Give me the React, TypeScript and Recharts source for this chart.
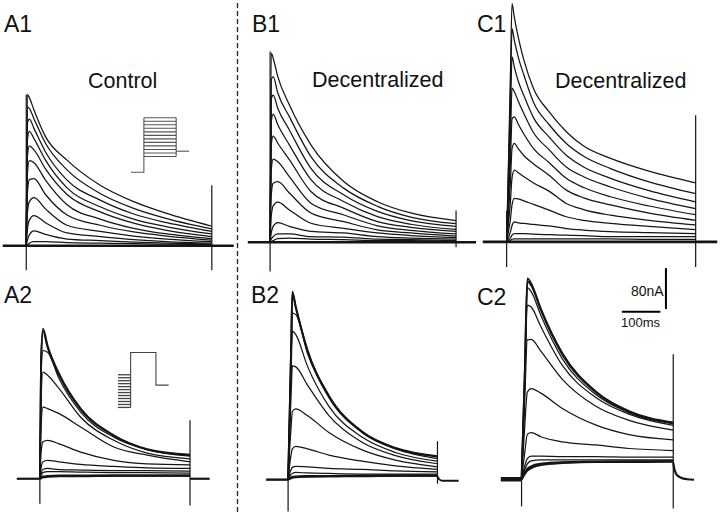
import React from 'react';
import { LineChart, Line, XAxis, YAxis } from 'recharts';

// ---------- scale: px per ms and px per nA (from the 100 ms / 80 nA bars) ----------
const KX = 0.385;
const KY = 0.5125;
const SCALE_MS = 100;
const SCALE_NA = 80;

// ---------- A1 : Control, activation ----------
const A1_T = [0, 3, 8, 20, 50, 106, 192, 279, 365, 482];
const A1_TRACES = [
  [0, 295, 289, 265, 213, 167, 118, 86, 63, 38],
  [0, 271, 268, 248, 200, 148, 102, 73, 53, 33],
  [0, 239, 247, 229, 183, 128, 89, 62, 45, 28],
  [0, 206, 223, 209, 167, 113, 76, 52, 37, 23],
  [0, 174, 195, 187, 150, 100, 66, 44, 30, 18],
  [0, 141, 166, 162, 128, 80, 52, 34, 23, 14],
  [0, 102, 129, 131, 100, 60, 40, 27, 19, 11],
  [0, 63, 86, 94, 72, 40, 28, 19, 13, 8],
  [0, 31, 50, 59, 45, 25, 18, 12, 8, 5],
  [0, 11, 21, 29, 22, 13, 10, 7, 5, 3],
  [0, 2, 5, 8, 8, 6, 5, 4, 3, 2],
];
const A1_BASE = [[-61, 0], [539, 0]];
const A1_ON = [[0, -48], [0, 295]];
const A1_OFF = [[482, -48], [482, 118]];

// ---------- B1 : Decentralized, activation ----------
const B1_T = [0, 3, 8, 20, 50, 106, 192, 279, 365, 483];
const B1_TRACES = [
  [0, 369, 359, 323, 268, 190, 118, 79, 57, 42],
  [0, 317, 323, 291, 245, 167, 105, 70, 49, 36],
  [0, 278, 287, 261, 219, 144, 92, 60, 42, 31],
  [0, 235, 250, 229, 190, 122, 79, 50, 35, 25],
  [0, 190, 207, 193, 161, 99, 66, 40, 29, 21],
  [0, 141, 162, 157, 128, 76, 53, 32, 23, 16],
  [0, 92, 115, 118, 96, 57, 40, 24, 18, 12],
  [0, 50, 71, 78, 63, 37, 27, 18, 13, 9],
  [0, 18, 31, 38, 31, 21, 18, 11, 8, 6],
  [0, 6, 11, 16, 16, 11, 10, 6, 5, 3],
  [0, 1, 3, 7, 8, 6, 5, 3, 3, 1],
];
const B1_BASE = [[-58, 0], [535, 0]];
const B1_ON = [[0, -57], [0, 372]];
const B1_OFF = [[483, -10], [483, 62]];

// ---------- C1 : Decentralized, activation ----------
const C1_T = [0, 4, 10, 14, 20, 30, 45, 70, 110, 155, 200, 270, 370, 491];
const C1_TRACES = [
  [0, 130, 332, 465, 438, 400, 354, 299, 254, 215, 187, 163, 138, 115],
  [0, 116, 297, 416, 393, 361, 325, 272, 229, 192, 167, 143, 117, 94],
  [0, 101, 258, 361, 341, 314, 285, 242, 205, 169, 146, 124, 100, 78],
  [0, 80, 205, 300, 293, 275, 250, 213, 180, 146, 127, 107, 85, 65],
  [0, 62, 160, 240, 244, 230, 210, 182, 155, 124, 106, 88, 70, 53],
  [0, 45, 120, 182, 192, 182, 168, 152, 130, 101, 86, 72, 56, 42],
  [0, 30, 80, 125, 140, 135, 127, 115, 99, 75, 63, 52, 42, 33],
  [0, 17, 45, 72, 85, 84, 80, 73, 62, 49, 42, 36, 30, 24],
  [0, 7, 20, 32, 39, 37, 36, 34, 31, 26, 23, 20, 18, 16],
  [0, 3, 8, 13, 16, 16, 16, 15, 14, 13, 12, 10, 10, 10],
  [0, 1, 3, 5, 6, 6, 6, 6, 6, 6, 6, 6, 5, 5],
];
const C1_BASE = [[-62, 0], [547, 0]];
const C1_ON = [[0, -49], [0, 60]];
const C1_OFF = [[491, -49], [491, 247]];

// ---------- A2 : Control, inactivation ----------
const A2_T = [0, 3, 8, 20, 50, 106, 192, 279, 390];
const A2_TRACES = [
  [0, 231, 293, 260, 205, 137, 85, 58, 47],
  [0, 222, 288, 256, 202, 135, 84, 57, 46],
  [0, 198, 250, 247, 195, 130, 81, 57, 44],
  [0, 153, 208, 202, 176, 120, 75, 50, 39],
  [0, 101, 140, 137, 127, 101, 62, 46, 33],
  [0, 49, 72, 75, 68, 52, 36, 29, 27],
  [0, 20, 33, 36, 33, 28, 24, 21, 20],
  [0, 10, 18, 20, 18, 17, 16, 16, 15],
  [0, 6, 12, 14, 14, 13, 12, 12, 11],
  [0, 2, 4, 5, 6, 6, 6, 6, 6],
  [0, 1, 3, 4, 5, 5, 6, 6, 6],
];
const A2_PRE = [[-60, 0], [0, 0]];
const A2_POST = [[390, 0], [441, 0]];
const A2_ON = [[0, -49], [0, 12]];
const A2_OFF = [[390, -52], [390, 114]];

// ---------- B2 : Decentralized, inactivation ----------
const B2_T = [0, 3, 8, 11, 20, 50, 106, 192, 279, 388];
const B2_TRACES = [
  [0, 98, 267, 367, 338, 254, 164, 94, 62, 46],
  [0, 95, 260, 362, 335, 252, 163, 93, 61, 45],
  [0, 95, 245, 325, 322, 247, 160, 92, 60, 41],
  [0, 85, 215, 290, 283, 222, 143, 83, 53, 36],
  [0, 70, 170, 222, 220, 185, 125, 73, 47, 31],
  [0, 45, 105, 133, 138, 125, 92, 58, 38, 25],
  [0, 22, 50, 60, 65, 60, 48, 36, 27, 20],
  [0, 10, 20, 24, 26, 25, 22, 20, 17, 15],
  [0, 5, 10, 12, 14, 13, 12, 11, 11, 11],
  [0, 2, 4, 5, 6, 7, 7, 8, 8, 8],
  [0, 1, 3, 4, 5, 6, 7, 7, 8, 8],
];
const B2_PRE = [[-57, 0], [0, 0]];
const B2_POST = [[388, 6], [392, 1], [400, -2], [443, -2]];
const B2_ON = [[0, -62], [0, 10]];
const B2_OFF = [[388, -8], [388, 75]];

// ---------- C2 : Decentralized, inactivation ----------
const C2_T = [0, 3, 8, 15, 25, 50, 106, 192, 279, 394];
const C2_TRACES = [
  [0, 77, 200, 392, 382, 333, 246, 172, 133, 111],
  [0, 75, 196, 386, 378, 330, 243, 170, 131, 110],
  [0, 75, 195, 374, 366, 320, 235, 166, 130, 108],
  [0, 70, 180, 340, 336, 298, 222, 160, 127, 105],
  [0, 60, 150, 272, 273, 250, 195, 143, 115, 96],
  [0, 40, 100, 170, 177, 168, 138, 106, 87, 77],
  [0, 20, 50, 88, 91, 83, 73, 67, 60, 56],
  [0, 10, 25, 40, 45, 45, 44, 44, 43, 43],
  [0, 8, 18, 30, 36, 38, 38, 38, 38, 38],
  [0, 5, 12, 20, 25, 30, 33, 34, 35, 35],
  [0, 4, 10, 17, 22, 28, 32, 34, 34, 35],
];
const C2_PRE = [[-54, 0], [0, 0]];
const C2_POST = [[394, 32], [397, 20], [401, 11], [407, 6], [414, 3], [430, 0], [448, -1]];
const C2_ON = [[0, -53], [0, 30]];
const C2_OFF = [[394, -57], [394, 244]];
const SCALE_T0 = 260.5;
const SCALE_V0 = 327;
const SCALE_VT = 375;
const SCALE_VV0 = 332;

// ---------- voltage protocols (insets) ----------
const PROT_A1_LEVELS = [-40, -30, -20, -10, 0, 10, 20, 30, 40, 50, 60, 70];
const PROT_A1_HOLD = -85;
const PROT_A1_TAIL = -25;
const PROT_A1_TIMES = [0, 40, 140, 180];

const PROT_A2_PRE = [-120, -110, -100, -90, -80, -70, -60, -50, -40, -30, -20, -10];
const PROT_A2_STEP = 65;
const PROT_A2_TAIL = -45;
const PROT_A2_TIMES = [0, 40, 120, 160];

// ---------- helpers ----------
type Pt = { t: number; v: number };
const zip = (ts: number[], vs: number[]): Pt[] => ts.map((t, i) => ({ t, v: vs[i] }));
const seg = (pairs: number[][]): Pt[] => pairs.map(([t, v]) => ({ t, v }));

interface Spec { data: Pt[]; w: number; color?: string; curve?: 'monotone' | 'linear' }

function Panel(props: {
  x0: number; y0: number; kx: number; ky: number;
  dom: [number, number, number, number]; lines: Spec[];
}) {
  const { x0, y0, kx, ky, dom, lines } = props;
  const [tMin, tMax, vMin, vMax] = dom;
  const left = x0 + tMin * kx;
  const top = y0 - vMax * ky;
  const width = (tMax - tMin) * kx;
  const height = (vMax - vMin) * ky;
  return (
    <div style={{ position: 'absolute', left, top, width, height }}>
      <LineChart width={width} height={height} margin={{ top: 0, right: 0, bottom: 0, left: 0 }}>
        <XAxis type="number" dataKey="t" domain={[tMin, tMax]} hide />
        <YAxis type="number" domain={[vMin, vMax]} hide />
        {lines.map((l, i) => (
          <Line
            key={i}
            data={l.data}
            dataKey="v"
            type={l.curve ?? 'monotone'}
            stroke={l.color ?? '#151515'}
            strokeWidth={l.w}
            dot={false}
            activeDot={false}
            isAnimationActive={false}
          />
        ))}
      </LineChart>
    </div>
  );
}

function traceSpecs(ts: number[], traces: number[][], thickTop: number, thickBottom: number): Spec[] {
  return traces.map((vs, i) => ({
    data: zip(ts, vs),
    w: i < thickTop ? 1.8 : i >= traces.length - thickBottom ? 2.2 : 1.25,
  }));
}

const lin = (pairs: number[][], w = 1.2, color = '#151515'): Spec => ({ data: seg(pairs), w, color, curve: 'linear' });

const FONT = '"Liberation Sans", Arial, Helvetica, sans-serif';

export default function App() {
  const a1 = [lin(A1_BASE, 2.6), ...traceSpecs(A1_T, A1_TRACES, 0, 0), lin(A1_ON, 1.2), lin(A1_OFF, 1.2)];
  const b1 = [lin(B1_BASE, 2.6), ...traceSpecs(B1_T, B1_TRACES, 0, 0), lin(B1_ON, 1.2), lin(B1_OFF, 1.2)];
  const c1 = [lin(C1_BASE, 2.6), ...traceSpecs(C1_T, C1_TRACES, 0, 0), lin(C1_ON, 1.2), lin(C1_OFF, 1.2)];
  const a2 = [lin(A2_PRE, 2.2), lin(A2_POST, 2.2), ...traceSpecs(A2_T, A2_TRACES, 2, 2), lin(A2_ON, 1.2), lin(A2_OFF, 1.2)];
  const b2 = [lin(B2_PRE, 2.4), { data: seg(B2_POST), w: 2, curve: 'monotone' as const }, ...traceSpecs(B2_T, B2_TRACES, 2, 2), lin(B2_ON, 1.2), lin(B2_OFF, 1.2)];
  const c2 = [
    lin(C2_PRE, 4.5),
    { data: seg(C2_POST), w: 2.2, curve: 'monotone' as const },
    ...traceSpecs(C2_T, C2_TRACES, 2, 2),
    lin(C2_ON, 1.2),
    lin(C2_OFF, 1.2),
    lin([[SCALE_T0, SCALE_V0], [SCALE_T0 + SCALE_MS, SCALE_V0]], 2, '#000'),
    lin([[SCALE_VT, SCALE_VV0], [SCALE_VT, SCALE_VV0 + SCALE_NA]], 2, '#000'),
  ];

  const [h0, h1, h2, h3] = PROT_A1_TIMES;
  const top1 = PROT_A1_LEVELS[PROT_A1_LEVELS.length - 1];
  const bot1 = PROT_A1_LEVELS[0];
  const protA1: Spec[] = [
    lin([[h0, PROT_A1_HOLD], [h1, PROT_A1_HOLD], [h1, top1]], 1.1, '#555'),
    ...PROT_A1_LEVELS.map((L) => lin([[h1, L], [h2, L]], 1.1, '#555')),
    lin([[h2, top1], [h2, bot1]], 1.1, '#555'),
    lin([[h2, PROT_A1_TAIL], [h3, PROT_A1_TAIL]], 1.1, '#555'),
  ];
  const [p0, p1, p2, p3] = PROT_A2_TIMES;
  const protA2: Spec[] = [
    ...PROT_A2_PRE.map((L) => lin([[p0, L], [p1, L]], 1.3, '#444')),
    lin([[p1, PROT_A2_PRE[0]], [p1, PROT_A2_STEP], [p2, PROT_A2_STEP], [p2, PROT_A2_TAIL], [p3, PROT_A2_TAIL]], 1.1, '#444'),
  ];

  const label = { fontFamily: FONT, fill: '#111' };

  return (
    <div style={{ position: 'absolute', left: 0, top: 0, width: 720, height: 515, background: '#fff', overflow: 'hidden' }}>
      <Panel x0={26.5} y0={245.7} kx={KX} ky={KY} dom={[-63, 541, -52, 300]} lines={a1} />
      <Panel x0={270.3} y0={242.3} kx={KX} ky={KY} dom={[-60, 537, -60, 375]} lines={b1} />
      <Panel x0={507} y0={241.7} kx={KX} ky={KY} dom={[-64, 550, -52, 470]} lines={c1} />
      <Panel x0={40} y0={478.3} kx={KX} ky={KY} dom={[-62, 445, -55, 300]} lines={a2} />
      <Panel x0={288} y0={480} kx={KX} ky={KY} dom={[-60, 446, -65, 372]} lines={b2} />
      <Panel x0={521.7} y0={479.3} kx={KX} ky={KY} dom={[-56, 452, -60, 420]} lines={c2} />
      <Panel x0={131} y0={117.3 + 70 * 0.352} kx={0.323} ky={0.352} dom={[-3, 183, -90, 75]} lines={protA1} />
      <Panel x0={130.7 - 40 * 0.3167} y0={375 - 10 * 0.297} kx={0.3167} ky={0.297} dom={[-3, 163, -125, 70]} lines={protA2} />
      <svg width={720} height={515} style={{ position: 'absolute', left: 0, top: 0, pointerEvents: 'none' }}>
        <line x1={237.5} y1={3} x2={237.5} y2={512} stroke="#222" strokeWidth={1.3} strokeDasharray="5 3" />
        <text x={4} y={32} fontSize={23} {...label}>A1</text>
        <text x={252} y={32} fontSize={23} {...label}>B1</text>
        <text x={477} y={32} fontSize={23} {...label}>C1</text>
        <text x={4} y={303} fontSize={23} {...label}>A2</text>
        <text x={251} y={303} fontSize={23} {...label}>B2</text>
        <text x={477} y={305} fontSize={23} {...label}>C2</text>
        <text x={88} y={88} fontSize={21.5} {...label}>Control</text>
        <text x={312} y={87} fontSize={21.5} {...label}>Decentralized</text>
        <text x={555} y={88} fontSize={21.5} {...label}>Decentralized</text>
        <text x={631} y={296} fontSize={14} {...label}>80nA</text>
        <text x={621} y={327} fontSize={13} {...label}>100ms</text>
      </svg>
    </div>
  );
}
